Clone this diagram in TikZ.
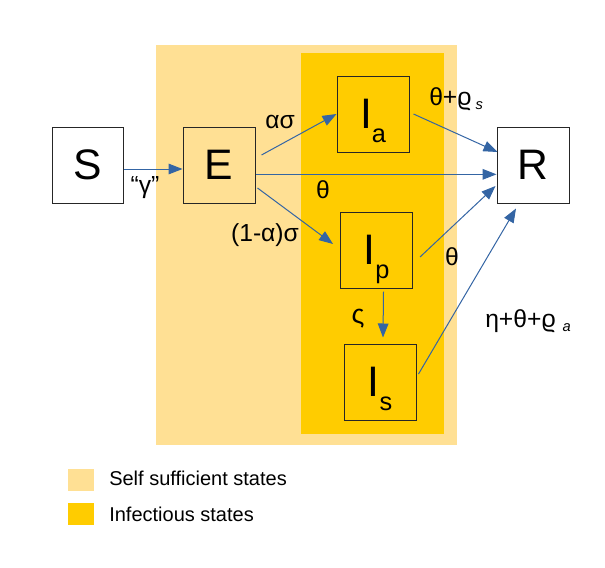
\documentclass[tikz,border=0pt]{standalone}
\usepackage{fontspec}
\setmainfont{Liberation Sans}
\usetikzlibrary{arrows.meta}

\definecolor{selfcol}{RGB}{255,224,148}
\definecolor{infcol}{RGB}{255,204,0}
\definecolor{flowcol}{RGB}{52,101,164}
\tikzset{
  statebox/.style={draw=black!85, line width=0.75pt, minimum width=54pt, minimum height=57pt, inner sep=0pt, font=\fontsize{32}{38}\selectfont},
  flow/.style={draw=flowcol, line width=0.75pt, -{Triangle[length=10.5pt,width=8pt]}},
  rate/.style={inner sep=0pt, font=\fontsize{18.5}{22}\selectfont},
  keybox/.style={minimum width=19.5pt, minimum height=16.5pt, inner sep=0pt},
  keytext/.style={anchor=west, inner sep=0pt, font=\fontsize{15}{18}\selectfont}
}
\newcommand{\substate}[1]{\smash{\raisebox{-10pt}{\fontsize{19}{22}\selectfont #1}}}
\newcommand{\subrate}[1]{\raisebox{-3pt}{\fontsize{11}{13}\selectfont\itshape #1}}

\begin{document}
\begin{tikzpicture}[x=0.75pt,y=0.75pt,yscale=-1,xscale=1]
\useasboundingbox (0,0) rectangle (605,567);

%Shape: Rectangle [self sufficient states]
\fill [selfcol] (156,45) rectangle (457,445) ;
%Shape: Rectangle [infectious states]
\fill [infcol] (301,53) rectangle (444,434) ;

%Shape: Square
\node [statebox, fill=white, minimum width=53.25pt] (S) at (87.5,165) {S};
%Shape: Square
\node [statebox] (E) at (219,165) {E};
%Shape: Square
\node [statebox] (Ia) at (373,114) {I\substate{a}};
%Shape: Square
\node [statebox, fill=white] (R) at (533,165) {R};
%Shape: Square
\node [statebox] (Ip) at (376.5,250) {I\substate{p}};
%Shape: Square
\node [statebox] (Is) at (380,382) {I\substate{s}};

%Straight Lines
\draw [flow] ([yshift=3]S.east) -- ([yshift=3]E.west) ;
\draw [flow] ([shift={(6,-10)}]E.east) -- (Ia.west) ;
\draw [flow] ([yshift=7]E.east) -- ([yshift=7]R.west) ;
\draw [flow] ([shift={(2,23)}]E.east) -- ([shift={(-7,-6)}]Ip.west) ;
\draw [flow] ([xshift=3]Ia.east) -- ([shift={(1,-13)}]R.west) ;
\draw [flow] ([shift={(7,7)}]Ip.east) -- ([shift={(-1,21)}]R.west) ;
\draw [flow] ([shift={(2,-8)}]Is.east) -- ([shift={(-17,5)}]R.south) ;
\draw [flow] ([shift={(7,3)}]Ip.south) -- ([shift={(3,-6)}]Is.north) ;

% Text Node
\node [rate] (lSE) at (145,188) {“γ”};
% Text Node
\node [rate] (lEIa) at (280,122) {ασ};
% Text Node
\node [rate] (lER) at (323,190) {θ};
% Text Node
\node [rate] (lEIp) at (265,235) {(1-α)σ};
% Text Node
\node [rate, anchor=base west] (lIaR) at (429,105) {θ+ϱ\hspace{3pt}\subrate{s}};
% Text Node
\node [rate] (lIpR) at (452,257) {θ};
% Text Node
\node [rate, anchor=base west] (lIsR) at (485,327) {η+θ+ϱ \subrate{a}};
% Text Node
\node [rate, font=\fontsize{20}{24}\selectfont] (lIpIs) at (358,319) {ς};

%Shape: Square [legend]
\node [keybox, fill=selfcol] (keyself) at (81,480) {};
\node [keytext] (txtself) at (109,478) {Self sufficient states};
%Shape: Square [legend]
\node [keybox, fill=infcol] (keyinf) at (81,514) {};
\node [keytext] (txtinf) at (109,514) {Infectious states};

\end{tikzpicture}
\end{document}
